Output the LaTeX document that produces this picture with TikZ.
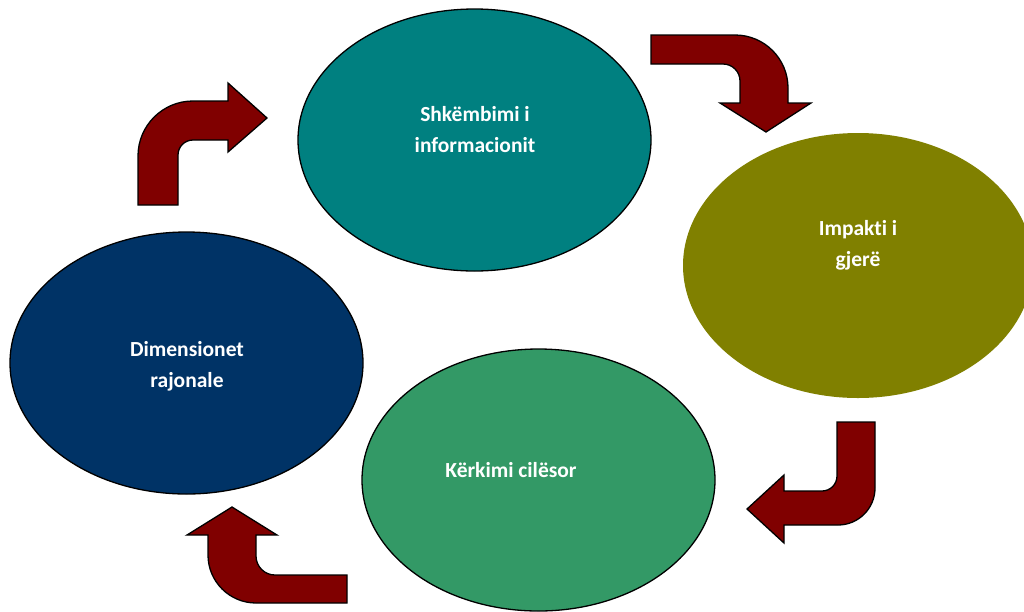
\documentclass[tikz,border=0pt]{standalone}
\usepackage{fontspec}
\setmainfont[Ligatures=NoCommon]{Carlito}
\usetikzlibrary{shapes.geometric}
\definecolor{cteal}{HTML}{008080}
\definecolor{colive}{HTML}{808000}
\definecolor{cgreen}{HTML}{339966}
\definecolor{cnavy}{HTML}{003366}
\definecolor{carrow}{HTML}{800000}
\tikzset{
  blob/.style={ellipse, inner sep=0pt, minimum width=353pt, minimum height=262pt},
  ring/.style={draw=black, line width=1.3pt},
  lbl/.style={text=white, font=\bfseries\fontsize{21.5}{31}\selectfont, align=center, inner sep=0pt},
  bentarrow/.style={fill=carrow, draw=black, line width=1.3pt, line join=miter}
}
\begin{document}
\begin{tikzpicture}[x=1pt, y=-1pt]
\useasboundingbox (0,0) rectangle (1024,611);

% the four stages
\node[blob, ring, fill=cteal] (info) at (474.5,140) {};
\node[blob, fill=colive, minimum width=350pt, minimum height=265pt] (impact) at (858,265.5) {};
\node[blob, ring, fill=cgreen] (research) at (538.5,480) {};
\node[blob, ring, fill=cnavy] (region) at (186.5,363) {};

\node[lbl] (infot) at (475,130) {Shkëmbimi i\\informacionit};
\node[lbl] (impactt) at (858,245) {Impakti i\\gjerë};
\node[lbl] (researcht) at (511,470) {Kërkimi cilësor};
\node[lbl] (regiont) at (187,366) {Dimensionet\\rajonale};

% bent arrows between the stages
\draw[bentarrow] (138,205) -- (138,156)
  .. controls (138,125.6) and (162.6,101) .. (193,101)
  -- (228,101) -- (228,83) -- (267,118) -- (228,152) -- (228,140) -- (193,140)
  .. controls (184.7,140) and (178,146.7) .. (178,155)
  -- (178,205) -- cycle;

\draw[bentarrow] (651,35) -- (735,35)
  .. controls (764.3,35) and (788,58.7) .. (788,88)
  -- (788,103) -- (811,103) -- (766,132) -- (720,103) -- (740,103) -- (740,81)
  .. controls (740,71.6) and (732.4,64) .. (723,64)
  -- (651,64) -- cycle;

\draw[bentarrow] (837,422) -- (875,422) -- (875,488)
  .. controls (875,508.4) and (858.4,525) .. (838,525)
  -- (784,525) -- (784,543) -- (747,509) -- (784,475) -- (784,491) -- (822,491)
  .. controls (830.3,491) and (837,484.3) .. (837,476)
  -- cycle;

\draw[bentarrow] (347,575) -- (275,575)
  .. controls (264.5,575) and (256,566.5) .. (256,556)
  -- (256,535) -- (277,535) -- (232,507) -- (187,535) -- (208,535) -- (208,555)
  .. controls (208,581.5) and (229.5,603) .. (256,603)
  -- (347,603) -- cycle;
\end{tikzpicture}
\end{document}
